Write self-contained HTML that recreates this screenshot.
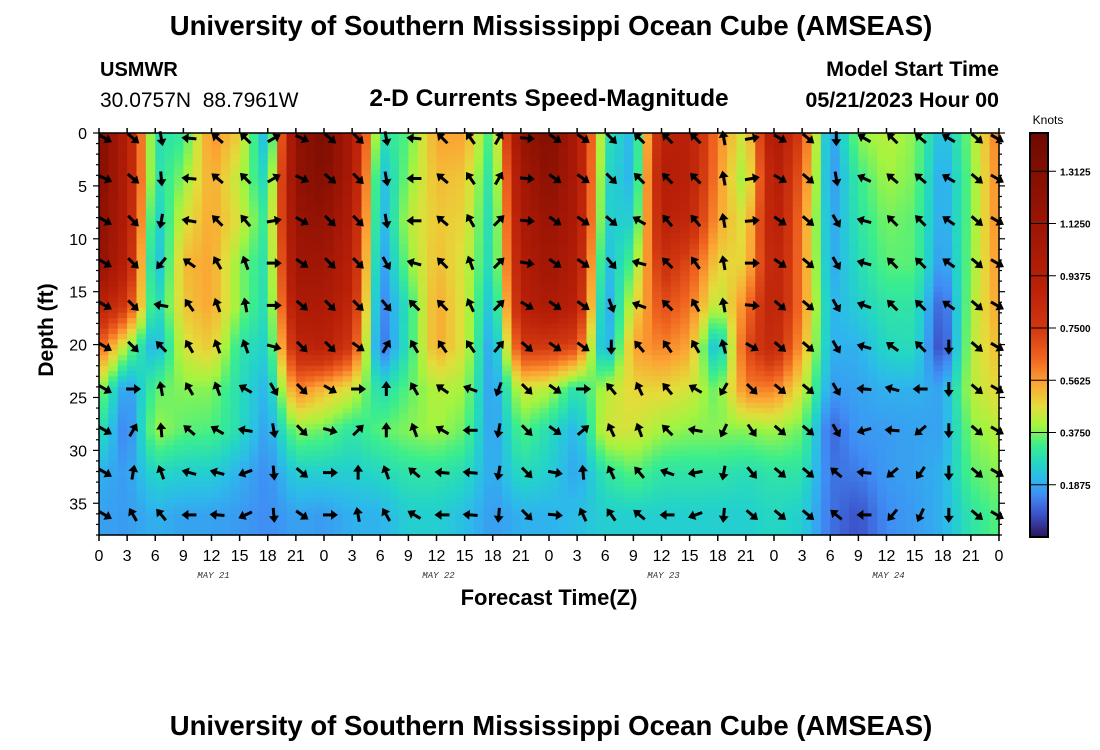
<!DOCTYPE html>
<html><head><meta charset="utf-8"><style>
body{margin:0;background:#fff;}
svg{display:block;font-family:"Liberation Sans",sans-serif;}
</style></head><body>
<svg id="chart" width="1100" height="750" viewBox="0 0 1100 750">
<text x="551" y="35" text-anchor="middle" font-size="27.5" font-weight="bold">University of Southern Mississippi Ocean Cube (AMSEAS)</text>
<text x="100" y="76" font-size="20" font-weight="bold">USMWR</text>
<text x="100" y="107" font-size="21" xml:space="preserve" style="white-space:pre">30.0757N  88.7961W</text>
<text x="549" y="106" text-anchor="middle" font-size="24.5" font-weight="bold">2-D Currents Speed-Magnitude</text>
<text x="999" y="76" text-anchor="end" font-size="21.5" font-weight="bold">Model Start Time</text>
<text x="999" y="107" text-anchor="end" font-size="21.5" font-weight="bold">05/21/2023 Hour 00</text>
<g id="heat"></g>
<g id="arrows"></g>
<rect x="99" y="133" width="900" height="402" fill="none" stroke="#000" stroke-width="1.5"/>
<g id="axes"></g>
<text transform="translate(53,330) rotate(-90)" text-anchor="middle" font-size="21" font-weight="bold">Depth (ft)</text>
<text x="549" y="605" text-anchor="middle" font-size="22" font-weight="bold">Forecast Time(Z)</text>
<text x="1048" y="124" text-anchor="middle" font-size="12">Knots</text>
<defs><linearGradient id="cg" x1="0" y1="1" x2="0" y2="0"></linearGradient></defs>
<rect x="1030" y="133" width="18" height="404" fill="url(#cg)" stroke="#000" stroke-width="2"/>
<g id="cbticks"></g>
<text x="551" y="735" text-anchor="middle" font-size="27.5" font-weight="bold">University of Southern Mississippi Ocean Cube (AMSEAS)</text>
</svg>
<script>
const times=[0,3,6,9,12,15,18,21,24,27,30,33,36,39,42,45,48,51,54,57,60,63,66,69,72,75,78,81,84,87,90,93,96];
const depths=[0.5,4.3,8.3,12.3,16.3,20.2,24.2,28.1,32.1,36.1];
const xTickLabels=["0","3","6","9","12","15","18","21","0","3","6","9","12","15","18","21","0","3","6","9","12","15","18","21","0","3","6","9","12","15","18","21","0"];
const yTickValues=[0,5,10,15,20,25,30,35];
const dayLabels=["MAY 21","MAY 22","MAY 23","MAY 24"];
const dayCenters=[12,36,60,84];
const cbTicks=[0.1875,0.375,0.5625,0.75,0.9375,1.125,1.3125];
// speed[k] = column at times[k], rows by depths
const speed=[
[1.3,1.3,1.25,1.2,0.9,0.65,0.4,0.3,0.2,0.18],
[0.95,0.95,0.95,0.9,0.75,0.4,0.15,0.12,0.17,0.17],
[0.28,0.28,0.22,0.18,0.25,0.18,0.35,0.4,0.27,0.2],
[0.32,0.38,0.45,0.52,0.5,0.45,0.38,0.35,0.25,0.18],
[0.58,0.55,0.55,0.55,0.55,0.5,0.38,0.34,0.25,0.18],
[0.48,0.42,0.45,0.38,0.38,0.3,0.28,0.28,0.2,0.17],
[0.18,0.25,0.3,0.28,0.27,0.25,0.2,0.17,0.15,0.15],
[1.2,1.2,1.15,1.1,1.0,0.85,0.6,0.38,0.25,0.18],
[1.35,1.3,1.2,1.1,1.0,0.9,0.52,0.36,0.25,0.17],
[1.0,1.0,0.95,0.9,0.85,0.75,0.45,0.3,0.25,0.2],
[0.28,0.2,0.18,0.15,0.12,0.1,0.27,0.35,0.27,0.2],
[0.35,0.38,0.42,0.38,0.3,0.3,0.35,0.38,0.3,0.25],
[0.55,0.52,0.5,0.52,0.55,0.55,0.42,0.4,0.3,0.25],
[0.55,0.5,0.48,0.45,0.45,0.45,0.4,0.36,0.28,0.22],
[0.3,0.27,0.25,0.25,0.2,0.15,0.15,0.16,0.18,0.17],
[1.15,1.05,1.0,0.95,0.9,0.75,0.45,0.35,0.28,0.2],
[1.3,1.25,1.15,1.1,1.0,0.75,0.42,0.28,0.25,0.2],
[1.0,1.0,1.0,0.95,0.9,0.7,0.28,0.2,0.18,0.22],
[0.3,0.27,0.25,0.2,0.15,0.15,0.42,0.45,0.3,0.25],
[0.2,0.2,0.25,0.35,0.45,0.55,0.48,0.45,0.35,0.25],
[0.9,0.95,0.9,0.8,0.7,0.6,0.48,0.4,0.3,0.25],
[0.9,0.9,0.85,0.7,0.62,0.55,0.45,0.38,0.3,0.25],
[0.6,0.58,0.55,0.48,0.4,0.18,0.35,0.38,0.3,0.25],
[0.42,0.38,0.45,0.48,0.6,0.7,0.6,0.38,0.28,0.25],
[1.0,0.95,0.95,0.9,0.9,0.85,0.6,0.4,0.3,0.27],
[0.7,0.65,0.6,0.6,0.6,0.55,0.45,0.36,0.3,0.25],
[0.15,0.15,0.17,0.18,0.2,0.2,0.17,0.1,0.12,0.12],
[0.38,0.32,0.3,0.28,0.25,0.2,0.18,0.17,0.13,0.08],
[0.42,0.4,0.37,0.35,0.3,0.27,0.2,0.17,0.17,0.15],
[0.38,0.37,0.35,0.35,0.3,0.28,0.2,0.18,0.18,0.17],
[0.2,0.17,0.17,0.15,0.08,0.05,0.18,0.18,0.2,0.2],
[0.38,0.37,0.37,0.38,0.4,0.42,0.42,0.38,0.35,0.3],
[0.62,0.6,0.6,0.58,0.56,0.52,0.48,0.42,0.38,0.35]
];
// direction (degrees, 0=east, 90=up) per column
const direction=[
[-30,-25,-30,-30,-30,-30,-30,-30,-30,-30],
[-40,-40,-45,-45,-45,-45,0,60,80,120],
[-80,-85,-100,-130,170,135,100,95,110,130],
[175,175,170,145,125,120,120,140,165,180],
[140,140,135,120,110,110,110,150,165,175],
[135,135,130,110,100,110,150,170,-160,-155],
[30,30,10,0,0,-15,-60,-80,-85,-85],
[-25,-25,-30,-35,-40,-45,-45,-45,-40,-35],
[-40,-40,-45,-45,-45,-45,-30,-15,0,0],
[-45,-45,-45,-45,-45,-35,0,45,90,100],
[-80,-80,-80,-60,-50,60,90,90,110,120],
[175,180,180,165,135,120,120,110,140,150],
[135,140,140,135,135,125,145,150,175,180],
[125,125,120,110,115,125,160,180,175,175],
[60,60,45,45,45,50,-110,-100,-100,-95],
[-5,-5,-5,-10,-30,-40,-45,-45,-45,-45],
[-35,-35,-35,-35,-35,-35,-35,-35,-10,-5],
[-35,-35,-35,-35,-35,-35,0,40,95,115],
[-45,-45,-40,-50,-70,-90,130,115,115,125],
[135,135,150,165,160,130,115,110,130,140],
[135,135,130,135,135,125,130,135,160,180],
[135,135,130,125,120,120,150,170,-170,-160],
[100,100,100,100,100,105,-120,-115,-100,-95],
[10,10,5,0,-5,-30,-45,-55,-50,-40],
[-30,-30,-35,-35,-40,-40,-40,-40,-40,-40],
[-40,-40,-40,-40,-40,-40,-40,-40,-40,-40],
[-90,-80,-60,-60,-60,-60,-60,-60,140,140],
[150,155,165,165,160,165,175,-165,175,180],
[135,140,135,135,135,145,165,175,-140,-130],
[140,140,135,135,135,135,180,-140,-125,-115],
[150,150,145,145,145,-90,-90,-90,-90,-90],
[-40,-40,-40,-40,-40,-40,-40,-40,-40,-40],
[-30,-30,-30,-30,-30,-30,-30,-30,-30,-30]
];
const NS="http://www.w3.org/2000/svg";
const X0=99,X1=999,Y0=133,Y1=535,TMAX=96,DMAX=38,VMAX=1.45;
const xScale=t=>X0+(t/TMAX)*(X1-X0);
const yScale=d=>Y0+(d/DMAX)*(Y1-Y0);
const cbScale=v=>537-(v/VMAX)*404;
const stops=[[0,[42,22,90]],[0.08,[60,80,200]],[0.15,[64,140,245]],[0.21,[45,185,235]],[0.26,[35,212,200]],[0.33,[60,238,140]],[0.40,[165,244,63]],[0.47,[228,220,58]],[0.55,[252,165,52]],[0.64,[240,100,32]],[0.75,[208,55,16]],[0.9,[185,32,8]],[1.1,[160,22,5]],[1.45,[110,10,0]]];
function color(v){
  v=Math.max(0,Math.min(VMAX,v));
  for(let i=1;i<stops.length;i++){
    if(v<=stops[i][0]){const a=stops[i-1],b=stops[i];const f=(v-a[0])/(b[0]-a[0]);
      const c=a[1].map((x,j)=>Math.round(x+(b[1][j]-x)*f));return `rgb(${c[0]},${c[1]},${c[2]})`;}
  }
  return "rgb(110,10,0)";
}
function mk(tag,attrs,parent){const e=document.createElementNS(NS,tag);for(const k in attrs)e.setAttribute(k,attrs[k]);parent.appendChild(e);return e;}
function interpIdx(arr,v){
  if(v<=arr[0])return [0,0,0];
  if(v>=arr[arr.length-1])return [arr.length-1,arr.length-1,0];
  for(let i=1;i<arr.length;i++)if(v<=arr[i])return [i-1,i,(v-arr[i-1])/(arr[i]-arr[i-1])];
}
function sample(t,d){
  const [a,b,f]=interpIdx(times,t);const [c,e,g]=interpIdx(depths,d);
  const v1=speed[a][c]+(speed[b][c]-speed[a][c])*f;
  const v2=speed[a][e]+(speed[b][e]-speed[a][e])*f;
  return v1+(v2-v1)*g;
}
const heat=document.getElementById('heat');
const dt=1,dd=0.5;
for(let t=0;t<TMAX;t+=dt){
  for(let d=0;d<DMAX;d+=dd){
    const v=sample(t+dt/2,d+dd/2);
    const x=xScale(t),y=yScale(d);
    const r=mk('rect',{x:x.toFixed(2),y:y.toFixed(2),width:(xScale(t+dt)-x+0.6).toFixed(2),height:(yScale(d+dd)-y+0.6).toFixed(2),fill:color(v)},heat);
    
    
  }
}
const arrows=document.getElementById('arrows');
for(let k=0;k<times.length;k++){
  for(let r=0;r<depths.length;r++){
    const cx=Math.min(xScale(times[k])+6,997),cy=yScale(depths[r]);
    const g=mk('g',{transform:`translate(${cx.toFixed(1)},${cy.toFixed(1)}) rotate(${-direction[k][r]})`},arrows);
    
    
    mk('line',{x1:-7,y1:0,x2:3,y2:0,stroke:'#000','stroke-width':3},g);
    mk('polygon',{points:'8,0 1,-5 1,5',fill:'#000'},g);
  }
}
const axes=document.getElementById('axes');
for(let i=0;i<times.length;i++){
  const x=xScale(times[i]);
  mk('line',{x1:x,y1:Y1,x2:x,y2:Y1+6,stroke:'#000','stroke-width':1.5},axes);
  mk('line',{x1:x,y1:Y0,x2:x,y2:Y0-5,stroke:'#000','stroke-width':1.5},axes);
  const tl=mk('text',{x:x,y:561,'text-anchor':'middle','font-size':16},axes);
  tl.textContent=xTickLabels[i];
  
  
}
for(let d=0;d<=DMAX;d++){
  const y=yScale(d);const major=d%5===0;
  mk('line',{x1:X0-(major?6:3),y1:y,x2:X0,y2:y,stroke:'#000','stroke-width':1.2},axes);
  mk('line',{x1:X1,y1:y,x2:X1+(major?6:3),y2:y,stroke:'#000','stroke-width':1.2},axes);
}
yTickValues.forEach(v=>{
  const tl=mk('text',{x:87,y:yScale(v)+6,'text-anchor':'end','font-size':16},axes);
  tl.textContent=String(v);
  
  
});
dayLabels.forEach((s,i)=>{
  const tl=mk('text',{x:xScale(dayCenters[i])+2,y:578,'text-anchor':'middle','font-size':9,'font-style':'italic','font-family':'Liberation Mono, monospace',fill:'#333'},axes);
  tl.textContent=s;
  
  
});
const grad=document.getElementById('cg');
stops.forEach(s=>{mk('stop',{offset:(s[0]/VMAX*100).toFixed(2)+'%','stop-color':color(s[0])},grad);});
const cbt=document.getElementById('cbticks');
cbTicks.forEach(v=>{
  const y=cbScale(v);
  mk('line',{x1:1030,y1:y,x2:1056,y2:y,stroke:'#000','stroke-width':1},cbt);
  const tl=mk('text',{x:1060,y:y+4,'font-size':10,'font-weight':'bold'},cbt);
  tl.textContent=v.toFixed(4);
  
  
});
</script>
</body></html>
